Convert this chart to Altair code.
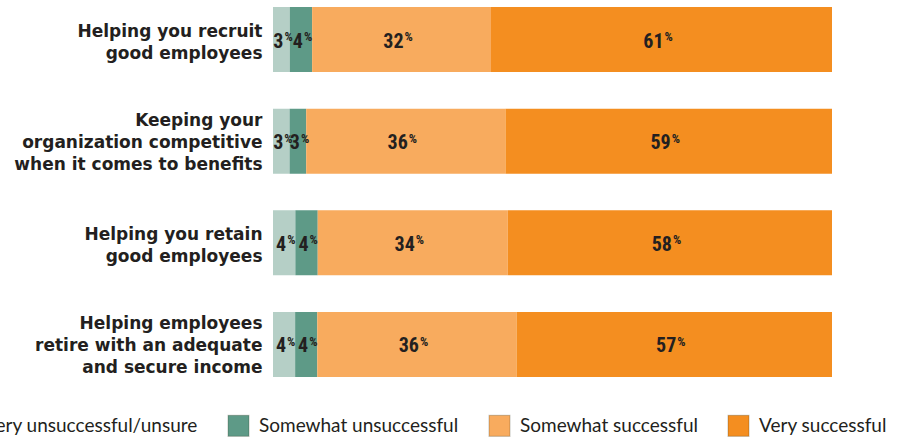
import altair as alt
import pandas as pd

questions = [
    "Helping you recruit\ngood employees",
    "Keeping your\norganization competitive\nwhen it comes to benefits",
    "Helping you retain\ngood employees",
    "Helping employees\nretire with an adequate\nand secure income",
]
categories = [
    "Very unsuccessful/unsure",
    "Somewhat unsuccessful",
    "Somewhat successful",
    "Very successful",
]
very_unsuccessful = [3, 3, 4, 4]
somewhat_unsuccessful = [4, 3, 4, 4]
somewhat_successful = [32, 36, 34, 36]
very_successful = [61, 59, 58, 57]
colors = ["#b5cfc6", "#5e9a87", "#f8ab5e", "#f48e20"]

series = [very_unsuccessful, somewhat_unsuccessful, somewhat_successful, very_successful]
rows = []
for qi, q in enumerate(questions):
    for ci, cat in enumerate(categories):
        rows.append({"question": q, "category": cat, "order": ci, "value": series[ci][qi]})
df = pd.DataFrame(rows)

num_font = "Roboto Condensed, Noto Sans Condensed, Open Sans Condensed, Liberation Sans Narrow, DejaVu Sans Condensed, Lato"
dark = "#231f20"

base = alt.Chart(df).transform_stack(
    stack="value",
    groupby=["question"],
    sort=[alt.SortField("order")],
    offset="normalize",
    as_=["x0", "x1"],
).transform_calculate(mid="(datum.x0 + datum.x1) / 2")

xscale = alt.Scale(domain=[0, 1], nice=False, zero=False)
yenc = alt.Y(
    "question:N",
    sort=questions,
    scale=alt.Scale(paddingInner=0.36, paddingOuter=0),
    axis=alt.Axis(
        title=None,
        labelExpr="split(datum.label, '\\n')",
        labelFont="DejaVu Sans",
        labelFontWeight="bold",
        labelFontSize=17,
        labelColor=dark,
        labelLineHeight=22,
        labelPadding=11,
        labelLimit=400,
        labelAlign="right",
        labelBaseline="middle",
        labelOffset={
            "condition": {"test": "length(split(datum.value, '\\n')) > 2", "value": -20},
            "value": -8,
        },
        ticks=False,
        domain=False,
        grid=False,
    ),
)

bars = base.mark_bar().encode(
    x=alt.X("x0:Q", scale=xscale, axis=None),
    x2="x1:Q",
    y=yenc,
    color=alt.Color(
        "category:N",
        scale=alt.Scale(domain=categories, range=colors),
        legend=alt.Legend(
            title=None,
            orient="none",
            legendX=-321,
            legendY=407,
            direction="horizontal",
            columns=4,
            symbolType="square",
            symbolSize=441,
            symbolStrokeWidth=1.2,
            symbolStrokeColor="rgba(40,40,20,0.22)",
            symbolOpacity=1,
            labelFont="Lato",
            labelFontSize=19,
            labelColor=dark,
            labelOffset=9,
            labelLimit=400,
            columnPadding=27,
        ),
    ),
)

nums = base.mark_text(
    align="right", baseline="alphabetic", dx=2, dy=8,
    font=num_font, fontSize=20, fontWeight="bold", color=dark,
).encode(
    x=alt.X("mid:Q", scale=xscale, axis=None),
    y=alt.Y("question:N", sort=questions),
    text="value:Q",
)

pcts = base.mark_text(
    align="left", baseline="alphabetic", dx=3, dy=1.5,
    font=num_font, fontSize=13, fontWeight="bold", color=dark,
).encode(
    x=alt.X("mid:Q", scale=xscale, axis=None),
    y=alt.Y("question:N", sort=questions),
    text=alt.value("%"),
)

chart = alt.layer(bars, nums, pcts).properties(
    width=559,
    height=370,
    padding={"left": 273, "top": 7, "right": 71, "bottom": 63},
    autosize=alt.AutoSizeParams(type="none"),
).configure_view(stroke=None)

chart.save("out.html", embed_options={"renderer": "svg", "actions": False})
